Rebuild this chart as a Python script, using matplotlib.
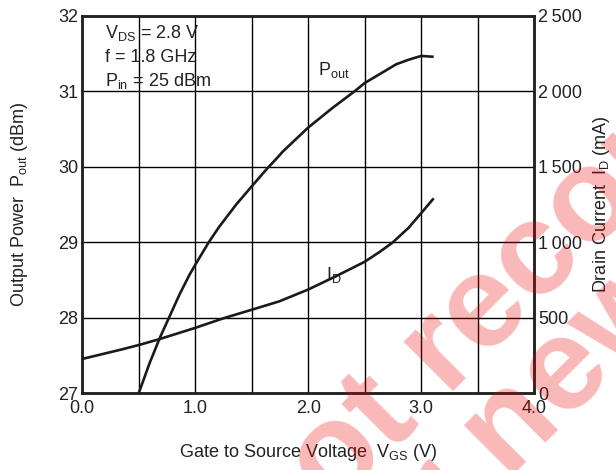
import numpy as np
import matplotlib
matplotlib.use("Agg")
import matplotlib.pyplot as plt

plt.rcParams['font.family'] = ['Liberation Sans', 'DejaVu Sans']
plt.rcParams['mathtext.fontset'] = 'custom'
plt.rcParams['mathtext.rm'] = 'Liberation Sans'
plt.rcParams['mathtext.it'] = 'Liberation Sans:italic'

# values
vgs_pout = [0.5, 0.597, 0.686, 0.774, 0.862, 0.95, 1.0, 1.12, 1.215, 1.363, 1.5, 1.627, 1.745,
            1.774, 2.0, 2.215, 2.41, 2.5, 2.657, 2.78, 2.89, 3.0, 3.1]
pout = [27.0, 27.40, 27.73, 28.02, 28.31, 28.57, 28.70, 29.0, 29.21, 29.50, 29.74, 29.96, 30.15,
        30.20, 30.52, 30.78, 31.0, 31.11, 31.25, 31.36, 31.42, 31.47, 31.46]

vgs_id = [0.0, 0.333, 0.5, 0.686, 1.0, 1.26, 1.5, 1.745, 2.0, 2.245, 2.5, 2.63, 2.745, 2.89, 3.0, 3.104]
i_d = [226, 286, 318, 358, 432, 498, 552, 608, 686, 774, 870, 934, 996, 1096, 1192, 1284]

x_ticks = [0.0, 1.0, 2.0, 3.0, 4.0]
x_tick_labels = ["0.0", "1.0", "2.0", "3.0", "4.0"]
left_ticks = [27, 28, 29, 30, 31, 32]
right_ticks = [0, 500, 1000, 1500, 2000, 2500]
right_tick_labels = ["0", "500", "1\u2009000", "1\u2009500", "2\u2009000", "2\u2009500"]

cond_lines = ["V$_{\\mathregular{DS}}$ = 2.8 V", "f = 1.8 GHz", "P$_{\\mathregular{in}}$ = 25 dBm"]

ink = "#222222"

fig = plt.figure(figsize=(6.16, 4.70), dpi=100)
ax = fig.add_axes([0.1336, 0.1638, 0.7333, 0.8022])
ax2 = ax.twinx()

ax.set_xlim(0, 4)
ax.set_ylim(27, 32)
ax2.set_ylim(0, 2500)

# grid every 0.5 V / 1 dBm
for gx in np.arange(0.5, 4.0, 0.5):
    ax.axvline(gx, color="black", lw=1.0, zorder=1)
for gy in range(28, 32):
    ax.axhline(gy, color="black", lw=1.0, zorder=1)

ax.plot(vgs_pout, pout, color="#1a1a1a", lw=1.9, zorder=3, solid_joinstyle="round")
ax2.plot(vgs_id, i_d, color="#1a1a1a", lw=1.9, zorder=3, solid_joinstyle="round")

ax.set_xticks(x_ticks)
ax.set_xticklabels(x_tick_labels)
ax.set_yticks(left_ticks)
ax2.set_yticks(right_ticks)
ax2.set_yticklabels(right_tick_labels)

for a in (ax, ax2):
    a.tick_params(length=0, labelsize=13, colors=ink, pad=3)
    for s in a.spines.values():
        s.set_linewidth(1.8)
        s.set_color(ink)
ax.tick_params(axis="x", pad=5)

ax.set_xlabel("Gate to Source Voltage  V$_{\\mathregular{GS}}$ (V)", fontsize=13, color=ink, labelpad=18)
ax.set_ylabel("Output Power  P$_{\\mathregular{out}}$ (dBm)", fontsize=13, color=ink, labelpad=20)
ax2.set_ylabel("Drain Current  I$_{\\mathregular{D}}$ (mA)", fontsize=13, color=ink, labelpad=6)

for i, line in enumerate(cond_lines):
    ax.text(0.2, 31.774 - i * 0.318, line, fontsize=13, color=ink, va="center", ha="left")
ax.text(2.09, 31.28, "P$_{\\mathregular{out}}$", fontsize=13, color=ink, va="center")
ax.text(2.16, 28.57, "I$_{\\mathregular{D}}$", fontsize=13, color=ink, va="center")

# watermark
fig.text(0.448, -0.208, "not recommended", fontsize=95, fontweight="bold", color="#f00000",
         alpha=0.28, rotation=45, rotation_mode="anchor", ha="left", va="baseline", zorder=10)
fig.text(0.580, -0.344, "for new design", fontsize=95, fontweight="bold", color="#f00000",
         alpha=0.28, rotation=45, rotation_mode="anchor", ha="left", va="baseline", zorder=10)

fig.savefig("out.png", dpi=100)
